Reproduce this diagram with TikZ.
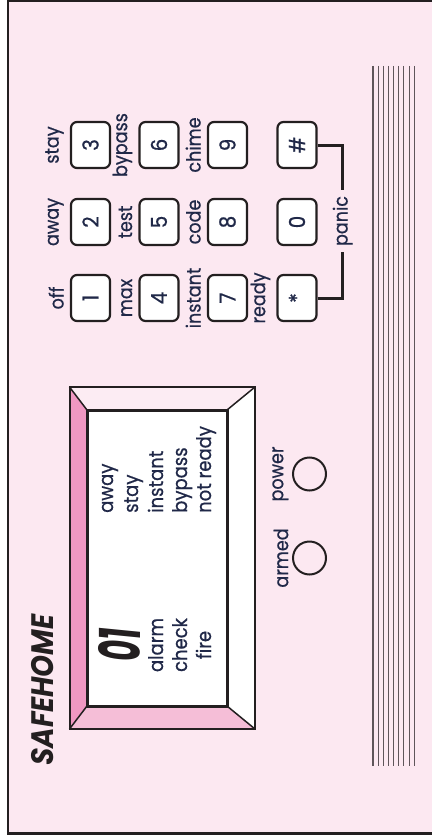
\documentclass[tikz,border=0pt]{standalone}
\usepackage{fontspec}
\setmainfont{Poppins}[FakeStretch=0.9, FakeBold=0.6]
\newfontfamily\brandfont{Poppins}[FakeStretch=0.9]
\definecolor{bg}{RGB}{252,232,241}
\definecolor{ink}{RGB}{35,31,32}
\definecolor{txt}{RGB}{32,40,72}
\definecolor{bevelL}{RGB}{240,152,194}
\definecolor{bevelB}{RGB}{245,190,215}
\definecolor{bevelT}{RGB}{252,236,243}
\definecolor{stripe}{RGB}{95,85,90}
\tikzset{
  key/.style={draw=ink, line width=2.2pt, fill=white, rounded corners=6pt,
    minimum width=39pt, minimum height=46pt, inner sep=0pt, text=txt,
    font=\fontsize{22}{22}\selectfont},
  klabel/.style={rotate=90, anchor=south, inner sep=0pt, text=txt,
    font=\fontsize{19.5}{19.5}\selectfont},
  scrtext/.style={rotate=90, inner sep=0pt, text=txt,
    font=\fontsize{20}{20}\selectfont},
  led/.style={draw=ink, line width=2pt, circle, minimum size=33pt, inner sep=0pt},
  wire/.style={draw=ink, line width=3pt},
  bevelline/.style={draw=ink, line width=1.5pt},
}
\begin{document}
\begin{tikzpicture}[x=1pt,y=-1pt]
\useasboundingbox (0,0) rectangle (431,840);
\fill[white] (0,0) rectangle (431,840);
% frame
\draw[ink, line width=2.6pt, fill=bg] (8,1) rectangle (434,833.3);
% stripes
\foreach \i in {0,...,8}
  \draw[stripe, line width=1.1pt] ({373+\i*5.15},66) -- ({373+\i*5.15},766);
% brand
\node[rotate=90, anchor=base west, inner sep=0pt, text=ink,
  font=\brandfont\bfseries\itshape\fontsize{31}{31}\selectfont] (brand) at (53,766) {SAFEHOME};
% display bezel
\fill[bevelT] (69.5,387) -- (255,387) -- (227,410) -- (87,410) -- cycle;
\fill[bevelL] (69.5,387) -- (87,410) -- (87,706) -- (69.5,729) -- cycle;
\fill[bevelB] (69.5,729) -- (87,706) -- (227,706) -- (255,729) -- cycle;
\fill[white] (255,387) -- (255,729) -- (227,706) -- (227,410) -- cycle;
\draw[bevelline] (69.5,387) -- (87,410) (255,387) -- (227,410)
  (69.5,729) -- (87,706) (255,729) -- (227,706);
\draw[ink, line width=2pt] (69.5,387) rectangle (255,729);
\draw[ink, line width=3pt, fill=white] (87,410) rectangle (227,706);
% display texts
\node[rotate=90, inner sep=0pt, text=ink] (digits) at (119,645)
  {\scalebox{0.62}[1]{\brandfont\bfseries\itshape\fontsize{58}{58}\selectfont 01}};
\node[scrtext, anchor=base] (salarm) at (163,645) {alarm};
\node[scrtext, anchor=base] (scheck) at (187,645) {check};
\node[scrtext, anchor=base] (sfire) at (211,645) {fire};
\node[scrtext, anchor=base west] (saway) at (113,513) {away};
\node[scrtext, anchor=base west] (sstay) at (138,513) {stay};
\node[scrtext, anchor=base west] (sinst) at (163,513) {instant};
\node[scrtext, anchor=base west] (sbyp) at (187,513) {bypass};
\node[scrtext, anchor=base west] (snr) at (211,513) {not ready};
% LEDs
\node[led] (pwr) at (309.5,474) {};
\node[led] (arm) at (309.5,558) {};
\node[klabel] (lpwr) at ([xshift=-3.5pt]pwr.west) {power};
\node[klabel] (larm) at ([xshift=-3.5pt]arm.west) {armed};
% keys
\node[key] (k1) at (90.5,298) {\rotatebox{90}{1}};
\node[key] (k2) at (90.5,222) {\rotatebox{90}{2}};
\node[key] (k3) at (90.5,145) {\rotatebox{90}{3}};
\node[key] (k4) at (159,298) {\rotatebox{90}{4}};
\node[key] (k5) at (159,222) {\rotatebox{90}{5}};
\node[key] (k6) at (159,145) {\rotatebox{90}{6}};
\node[key] (k7) at (227.5,298) {\rotatebox{90}{7}};
\node[key] (k8) at (227.5,222) {\rotatebox{90}{8}};
\node[key] (k9) at (227.5,145) {\rotatebox{90}{9}};
\node[key] (kstar) at (297,298) {\rotatebox{90}{*}};
\node[key] (k0) at (297,222) {\rotatebox{90}{0}};
\node[key] (khash) at (297,145) {\rotatebox{90}{\#}};
% key labels
\node[klabel] at ([xshift=-6pt]k1.west) {off};
\node[klabel] at ([xshift=-6pt]k2.west) {away};
\node[klabel] at ([xshift=-6pt]k3.west) {stay};
\node[klabel] at ([xshift=-6pt]k4.west) {max};
\node[klabel] at ([xshift=-6pt]k5.west) {test};
\node[klabel] at ([xshift=-6pt]k6.west) {bypass};
\node[klabel] at ([xshift=-6pt]k7.west) {instant};
\node[klabel] at ([xshift=-6pt]k8.west) {code};
\node[klabel] at ([xshift=-6pt]k9.west) {chime};
\node[klabel] at ([xshift=-6pt]kstar.west) {ready};
% panic
\node[rotate=90, inner xsep=6pt, inner ysep=0pt, text=txt,
  font=\fontsize{19.5}{19.5}\selectfont] (panic) at (342.7,221) {panic};
\draw[wire] (khash.east) -| (panic.east);
\draw[wire] (kstar.east) -| (panic.west);
\end{tikzpicture}
\end{document}
